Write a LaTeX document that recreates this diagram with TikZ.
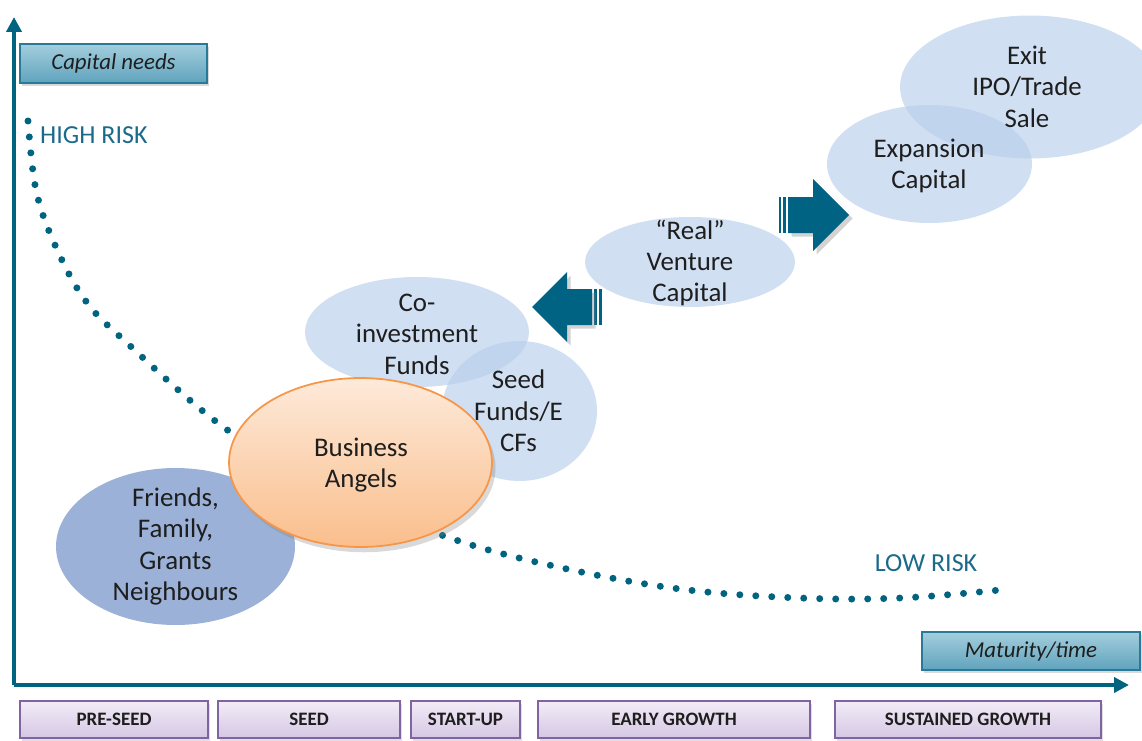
\documentclass[tikz,border=0pt]{standalone}
\usepackage{xcolor}
\usepackage{fontspec}
\setmainfont{Carlito}
\usepackage{tikz}
\usetikzlibrary{arrows.meta,shapes.geometric,shadows}

\definecolor{axisteal}{RGB}{0,99,128}
\definecolor{risktxt}{RGB}{28,106,138}
\definecolor{captop}{RGB}{163,206,221}
\definecolor{capbot}{RGB}{96,163,189}
\definecolor{capborder}{RGB}{40,122,152}
\definecolor{bubbleblue}{RGB}{184,206,235}
\definecolor{friendsblue}{RGB}{155,177,216}
\definecolor{angeltop}{RGB}{253,234,218}
\definecolor{angelbot}{RGB}{250,190,140}
\definecolor{angelborder}{RGB}{247,150,70}
\definecolor{stagetop}{RGB}{242,236,247}
\definecolor{stagebot}{RGB}{213,199,228}
\definecolor{stageborder}{RGB}{128,100,162}
\definecolor{arrowteal}{RGB}{0,99,132}
\definecolor{textdark}{RGB}{30,30,30}

\tikzset{
  bubble/.style={ellipse,fill=bubbleblue,fill opacity=0.65,inner sep=0pt},
  bubbletext/.style={align=center,font=\fontsize{15.3}{17.9}\selectfont,text=textdark},
  labelbox/.style={draw=capborder,line width=0.8pt,top color=captop,bottom color=capbot,
    font=\itshape\fontsize{13}{15}\selectfont,text=textdark,
    drop shadow={shadow xshift=1pt,shadow yshift=-1.5pt,opacity=0.3}},
  stagebox/.style={draw=stageborder,line width=0.8pt,top color=stagetop,bottom color=stagebot,
    minimum height=0.74cm,font=\bfseries\fontsize{10.8}{13}\selectfont,text=textdark,
    drop shadow={shadow xshift=1pt,shadow yshift=-1.5pt,opacity=0.25}},
  risklabel/.style={font=\fontsize{14.8}{16}\selectfont,text=risktxt},
  blockarrow/.style={fill=arrowteal,drop shadow={shadow xshift=2pt,shadow yshift=-2pt,opacity=0.35}}
}

\begin{document}
\begin{tikzpicture}[x=0.02cm,y=-0.02cm]
  \useasboundingbox (0,0) rectangle (1142,740);

  % axes
  \coordinate (origin) at (14,685);
  \coordinate (ytop) at (14,17);
  \coordinate (xend) at (1129,685);
  \draw[axisteal,line width=0.08cm,-{Triangle[length=0.3cm,width=0.3cm]}] (origin) -- (ytop);
  \draw[axisteal,line width=0.08cm,-{Triangle[length=0.3cm,width=0.3cm]}] (origin) -- (xend);

  % risk curve (dotted)
  \draw[axisteal,line width=0.14cm,line cap=round,dash pattern=on 0pt off 0.32cm]
    plot[smooth,tension=0.6] coordinates {(28,121) (36,190) (55,245) (85,300) (127,343)
      (226,429) (330,488) (447,537) (558,567) (680,589) (800,598) (900,598) (1000,590)};
  \node[risklabel,anchor=west] (highrisk) at (34,135) {HIGH RISK};
  \node[risklabel] (lowrisk) at (926,563) {LOW RISK};

  % axis labels
  \node[labelbox,minimum width=3.74cm,minimum height=0.78cm] (capneeds) at (113.5,63.5) {Capital needs};
  \node[labelbox,minimum width=4.36cm,minimum height=0.76cm] (maturity) at (1031,651) {Maturity/time};

  % bubbles
  \node[ellipse,fill=friendsblue,inner sep=0pt,minimum width=4.78cm,minimum height=3.14cm] (friends) at (175.5,546.5) {};
  \node[bubbletext] (friendstxt) at (friends) {Friends,\\Family,\\Grants\\Neighbours};
  \node[bubble,minimum width=4.48cm,minimum height=2.2cm] (coinv) at (417,332) {};
  \node[bubble,minimum width=3.1cm,minimum height=2.8cm] (seedf) at (519.5,411) {};
  \node[bubbletext] (coinvtxt) at (417,334) {Co-\\investment\\Funds};
  \node[bubbletext] (seedftxt) at (518.5,411) {Seed\\Funds/E\\CFs};
  \node[ellipse,draw=angelborder,line width=1pt,top color=angeltop,bottom color=angelbot,inner sep=0pt,
    minimum width=5.26cm,minimum height=3.38cm,
    drop shadow={shadow xshift=2pt,shadow yshift=-3pt,opacity=0.3}] (angels) at (360.5,462.5) {};
  \node[bubbletext] (angelstxt) at (361,465) {Business\\Angels};
  \node[bubble,minimum width=4.2cm,minimum height=1.8cm] (realvc) at (690,262) {};
  \node[bubbletext] (realvctxt) at (690,263) {“Real”\\Venture\\Capital};
  \node[bubble,minimum width=5.2cm,minimum height=2.86cm] (exit) at (1030,87) {};
  \node[bubble,minimum width=4.1cm,minimum height=2.36cm] (expcap) at (929.5,164) {};
  \node[bubbletext] (exittxt) at (1027,86.5) {Exit\\IPO/Trade\\Sale};
  \node[bubbletext] (expcaptxt) at (929,166) {Expansion\\Capital};

  % striped block arrows
  \fill[arrowteal] (779,197) rectangle (781,233);
  \fill[arrowteal] (783,197) rectangle (785.5,233);
  \fill[blockarrow] (788,197) -- (813,197) -- (813,179) -- (849,215) -- (813,251) -- (813,233) -- (788,233) -- cycle;
  \fill[arrowteal] (599,289) rectangle (601.5,325);
  \fill[arrowteal] (594,289) rectangle (597,325);
  \fill[blockarrow] (592,289) -- (567,289) -- (567,272) -- (532,307) -- (567,342) -- (567,325) -- (592,325) -- cycle;

  % stages
  \node[stagebox,minimum width=3.76cm] (preseed) at (114,719.5) {PRE-SEED};
  \node[stagebox,minimum width=3.64cm] (seed) at (309,719.5) {SEED};
  \node[stagebox,minimum width=2.18cm] (startup) at (465.5,719.5) {START-UP};
  \node[stagebox,minimum width=5.44cm] (earlygr) at (674,719.5) {EARLY GROWTH};
  \node[stagebox,minimum width=5.32cm] (sustgr) at (968,719.5) {SUSTAINED GROWTH};
\end{tikzpicture}
\end{document}
